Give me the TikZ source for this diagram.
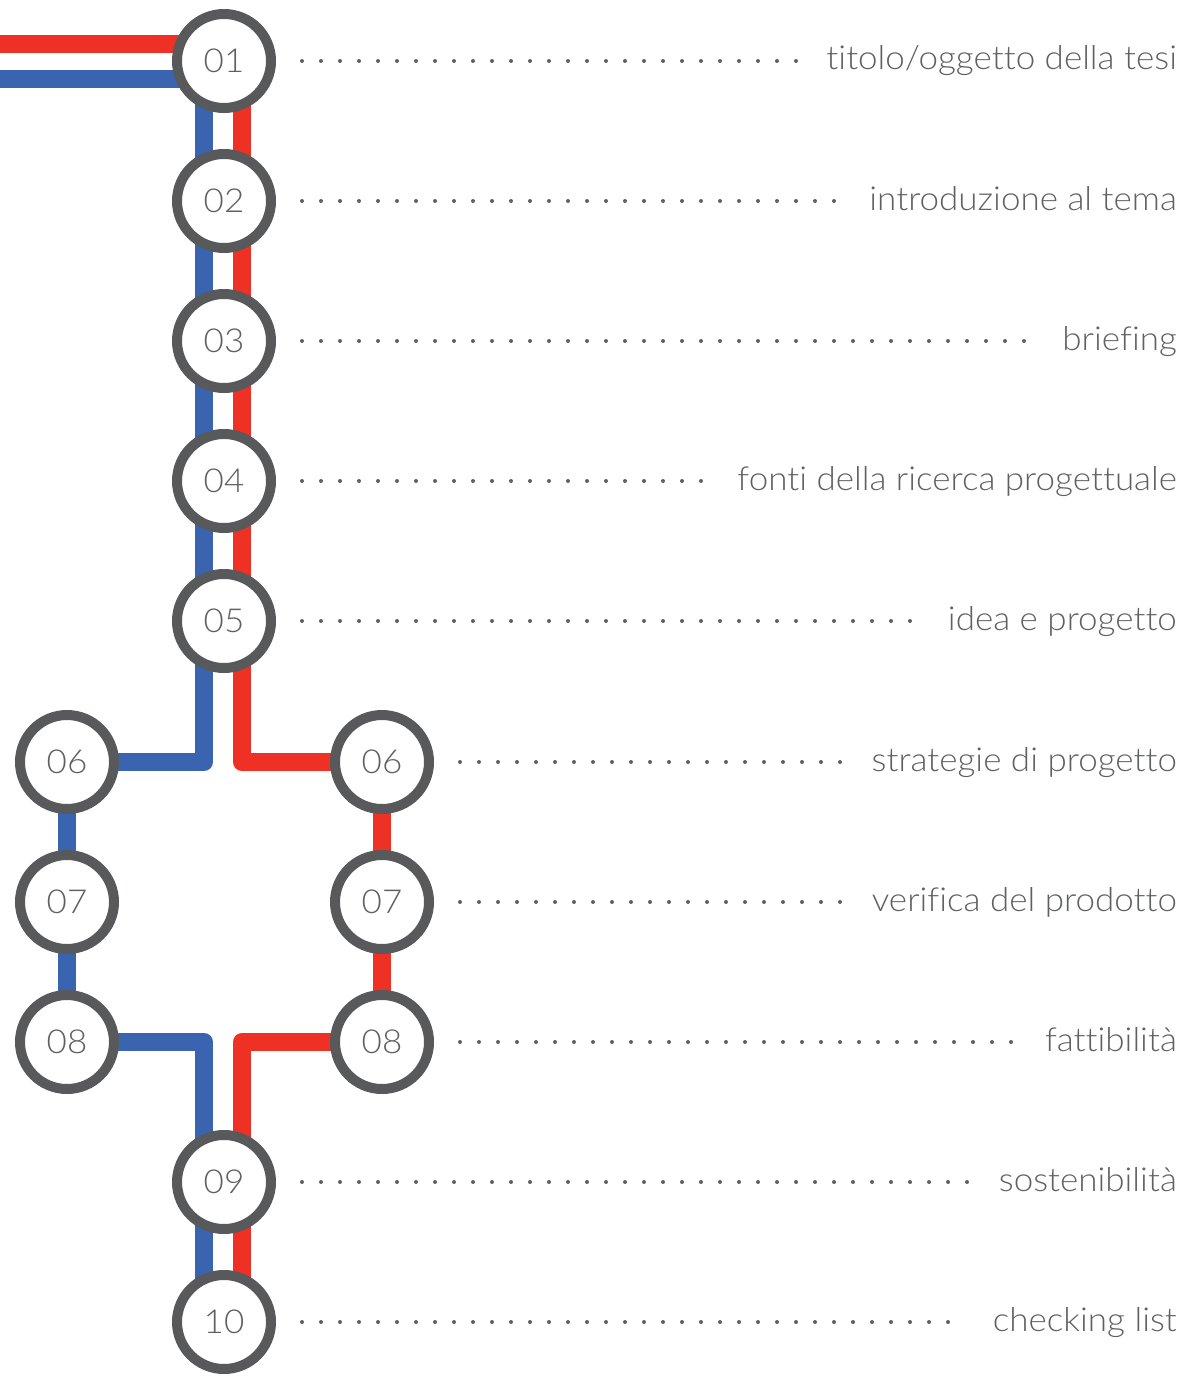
\documentclass[tikz,border=0pt]{standalone}
\usepackage{fontspec}
\setmainfont{Lato Light}[FakeStretch=1.06,Ligatures=NoCommon]
\usetikzlibrary{calc}
\pgfdeclarelayer{background}
\pgfsetlayers{background,main}
\definecolor{mred}{HTML}{EE3124}
\definecolor{mblue}{HTML}{3A64AF}
\definecolor{ring}{HTML}{58595B}
\definecolor{txt}{HTML}{5F6062}
\begin{document}
\begin{tikzpicture}[x=1pt,y=-1pt,
  stn/.style={circle,draw=ring,line width=10pt,fill=white,minimum size=94pt,inner sep=0pt,text=txt,font=\fontsize{33}{38}\selectfont},
  lbl/.style={anchor=east,inner sep=0pt,text=txt,font=\fontsize{33}{38}\selectfont,text height=24pt,text depth=0pt},
  dots/.style={draw=txt,line width=4pt,line cap=round,dash pattern=on 0pt off 19pt},
  redline/.style={draw=mred,line width=18pt,line join=round},
  blueline/.style={draw=mblue,line width=18pt,line join=round}]
\useasboundingbox (0,0) rectangle (1202,1383);

% stations
\node[stn] (n01) at (224,61) {01};
\node[stn] (n02) at (224,201) {02};
\node[stn] (n03) at (224,341) {03};
\node[stn] (n04) at (224,481) {04};
\node[stn] (n05) at (224,621) {05};
\node[stn] (l06) at (67,762) {06};
\node[stn] (r06) at (382,762) {06};
\node[stn] (l07) at (67,902) {07};
\node[stn] (r07) at (382,902) {07};
\node[stn] (l08) at (67,1042) {08};
\node[stn] (r08) at (382,1042) {08};
\node[stn] (n09) at (224,1182) {09};
\node[stn] (n10) at (224,1322) {10};

% labels
\node[lbl] (t01) at (1177,58) {titolo/oggetto della tesi};
\node[lbl] (t02) at (1177,198) {introduzione al tema};
\node[lbl] (t03) at (1177,338) {briefing};
\node[lbl] (t04) at (1177,478) {fonti della ricerca progettuale};
\node[lbl] (t05) at (1177,618) {idea e progetto};
\node[lbl] (t06) at (1177,759) {strategie di progetto};
\node[lbl] (t07) at (1177,899) {verifica del prodotto};
\node[lbl] (t08) at (1177,1039) {fattibilità};
\node[lbl] (t09) at (1177,1179) {sostenibilità};
\node[lbl] (t10) at (1177,1319) {checking list};

% dotted leaders
\draw[dots] ([xshift=26pt]n01.east) -- ([xshift=-28pt]t01.west |- n01.center);
\draw[dots] ([xshift=26pt]n02.east) -- ([xshift=-28pt]t02.west |- n02.center);
\draw[dots] ([xshift=26pt]n03.east) -- ([xshift=-28pt]t03.west |- n03.center);
\draw[dots] ([xshift=26pt]n04.east) -- ([xshift=-28pt]t04.west |- n04.center);
\draw[dots] ([xshift=26pt]n05.east) -- ([xshift=-28pt]t05.west |- n05.center);
\draw[dots] ([xshift=26pt]r06.east) -- ([xshift=-28pt]t06.west |- r06.center);
\draw[dots] ([xshift=26pt]r07.east) -- ([xshift=-28pt]t07.west |- r07.center);
\draw[dots] ([xshift=26pt]r08.east) -- ([xshift=-28pt]t08.west |- r08.center);
\draw[dots] ([xshift=26pt]n09.east) -- ([xshift=-28pt]t09.west |- n09.center);
\draw[dots] ([xshift=26pt]n10.east) -- ([xshift=-28pt]t10.west |- n10.center);

% lines
\coordinate (rin) at (0,44);
\coordinate (bin) at (0,79);
\begin{pgfonlayer}{background}
\draw[redline] (rin) -- (rin -| n01.center);
\draw[blueline] (bin) -- (bin -| n01.center);
\draw[redline] ([xshift=18pt]n01.center) |- (r06.center);
\draw[blueline] ([xshift=-20pt]n01.center) |- (l06.center);
\draw[blueline] (l06.center) -- (l08.center);
\draw[redline] (r06.center) -- (r08.center);
\draw[blueline] (l08.center) -| ([xshift=-20pt]n10.center);
\draw[redline] (r08.center) -| ([xshift=18pt]n10.center);
\end{pgfonlayer}
\end{tikzpicture}
\end{document}
